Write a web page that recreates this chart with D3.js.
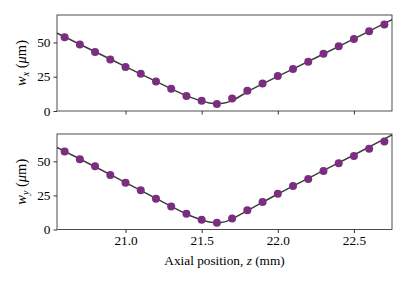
<!DOCTYPE html>
<meta charset="utf-8">
<style>
body { margin: 0; background: #fff; }
svg text { font-family: "Liberation Serif", "Times New Roman", serif; }
</style>
<svg id="svg" width="407" height="285"></svg>
<script src="https://cdnjs.cloudflare.com/ajax/libs/d3/7.8.5/d3.min.js"></script>
<script>
// measured positions along the beam (mm)
var zData = [20.6, 20.7, 20.8, 20.9, 21.0, 21.1, 21.2, 21.3, 21.4, 21.5, 21.6,
             21.7, 21.8, 21.9, 22.0, 22.1, 22.2, 22.3, 22.4, 22.5, 22.6, 22.7];

// beam radius in x and y (um)
var wxData = [53.7, 48.5, 43.1, 37.5, 32.1, 27.2, 21.6, 16.2, 11.0, 7.4, 5.1,
              9.1, 14.7, 20.1, 25.5, 30.6, 36.0, 41.7, 47.3, 52.5, 58.1, 63.0];
var wyData = [57.1, 51.5, 46.3, 40.0, 34.3, 28.7, 22.5, 16.9, 11.5, 7.1, 4.9,
              8.1, 14.2, 20.1, 26.2, 31.9, 37.0, 42.9, 48.5, 53.9, 59.1, 64.5];

// fitted curves
var zFit  = [20.55, 20.8, 21.0, 21.2, 21.4, 21.5, 21.55, 21.6, 21.65, 21.7, 21.8, 22.0, 22.25, 22.5, 22.75];
var wxFit = [56.8, 43.2, 32.4, 21.6, 11.2, 7.2, 5.9, 5.4, 5.9, 7.6, 14.0, 25.2, 38.8, 52.6, 66.6];
var wyFit = [60.2, 46.0, 34.4, 22.8, 11.4, 7.0, 5.5, 5.0, 5.6, 7.8, 13.8, 26.0, 40.4, 54.6, 69.3];

var xTicks = [21.0, 21.5, 22.0, 22.5];
var yTicks = [0, 25, 50];

var svg = d3.select("#svg");
var left = 57, right = 392;
var fs = "13.3px";
var panels = [
    {top: 15, bottom: 111, w: wxData, fit: wxFit, sub: "x", labels: false},
    {top: 134, bottom: 229.5, w: wyData, fit: wyFit, sub: "y", labels: true}
];

var x = d3.scaleLinear().domain([20.55, 22.75]).range([left, right]);

panels.forEach(function(p, i) {
    var y = d3.scaleLinear().domain([0, 70]).range([p.bottom, p.top]);
    var g = svg.append("g");

    var clipId = "clip" + i;
    svg.append("clipPath").attr("id", clipId)
        .append("rect")
        .attr("x", left).attr("y", p.top)
        .attr("width", right - left).attr("height", p.bottom - p.top);

    var line = d3.line()
        .x(function(d, k) { return x(zFit[k]); })
        .y(function(d) { return y(d); })
        .curve(d3.curveMonotoneX);

    g.append("path")
        .datum(p.fit)
        .attr("clip-path", "url(#" + clipId + ")")
        .attr("d", line)
        .attr("fill", "none")
        .attr("stroke", "#3d3d3d")
        .attr("stroke-width", 1.5);

    g.selectAll("circle")
        .data(p.w)
        .enter().append("circle")
        .attr("cx", function(d, k) { return x(zData[k]); })
        .attr("cy", function(d) { return y(d); })
        .attr("r", 4)
        .attr("fill", "#7b2d80");

    var xAxis = d3.axisBottom(x).tickValues(xTicks).tickSize(3.5).tickPadding(3)
        .tickFormat(p.labels ? d3.format(".1f") : "");
    var gx = g.append("g").attr("transform", "translate(0," + p.bottom + ")").call(xAxis);

    var yAxis = d3.axisLeft(y).tickValues(yTicks).tickSize(3.5).tickPadding(3);
    var gy = g.append("g").attr("transform", "translate(" + left + ",0)").call(yAxis);

    [gx, gy].forEach(function(a) {
        a.attr("font-family", null).attr("font-size", null);
        a.select(".domain").remove();
        a.selectAll("line").attr("stroke", "#000").attr("stroke-width", 0.8);
        a.selectAll("text").style("font-size", fs).attr("fill", "#000");
    });

    g.append("rect")
        .attr("x", left).attr("y", p.top)
        .attr("width", right - left).attr("height", p.bottom - p.top)
        .attr("fill", "none")
        .attr("stroke", "#222")
        .attr("stroke-width", 0.8);

    var lbl = g.append("text")
        .attr("transform", "translate(26," + ((p.top + p.bottom) / 2) + ") rotate(-90)")
        .attr("text-anchor", "middle")
        .style("font-size", "14.5px");
    lbl.append("tspan").style("font-style", "italic").text("w");
    lbl.append("tspan").style("font-style", "italic").style("font-size", "10px").attr("dy", 3).text(p.sub);
    lbl.append("tspan").attr("dy", -3).text(" (");
    lbl.append("tspan").style("font-style", "italic").text("μ");
    lbl.append("tspan").text("m)");
});

var xl = svg.append("text")
    .attr("x", (left + right) / 2)
    .attr("y", 265)
    .attr("text-anchor", "middle")
    .style("font-size", fs);
xl.append("tspan").text("Axial position, ");
xl.append("tspan").style("font-style", "italic").text("z");
xl.append("tspan").text(" (mm)");
</script>
